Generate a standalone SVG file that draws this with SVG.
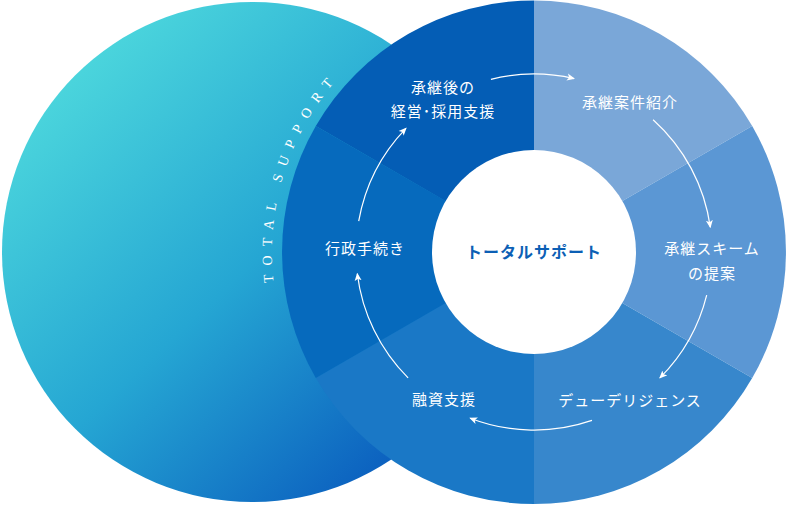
<svg xmlns="http://www.w3.org/2000/svg" width="787" height="505" viewBox="0 0 787 505">
<defs>
<linearGradient id="lg" x1="0.15" y1="0.15" x2="0.85" y2="0.9">
<stop offset="0" stop-color="#4ad4dc"/><stop offset="0.5" stop-color="#25a6d3"/><stop offset="1" stop-color="#0a5cbe"/>
</linearGradient>
<marker id="ah" markerWidth="8" markerHeight="8" refX="7" refY="4" orient="auto" markerUnits="userSpaceOnUse">
<path d="M0,0.5 L8,4 L0,7.5 L2,4 Z" fill="#fff"/>
</marker>
<path id="tp" d="M274.5,288.5 A262,262 0 0 1 383.7,37.4" fill="none"/>
</defs>
<style>
.lb{font-family:"Noto Sans CJK JP","Noto Sans",sans-serif;font-size:15px;fill:#fff;text-anchor:middle;letter-spacing:1px}
.ar{fill:none;stroke:#fff;stroke-width:1.2;marker-end:url(#ah)}
</style>
<circle cx="252" cy="252" r="250" fill="url(#lg)"/>
<text font-family="Liberation Serif,serif" font-size="14" fill="#fff" letter-spacing="8.8"><textPath href="#tp" startOffset="6">TOTAL SUPPORT</textPath></text>
<g id="ring">
<path d="M534,252 L534,0.5 A252,252 0 0 1 752.2,126 Z" fill="#7aa7d8"/>
<path d="M534,252 L752.2,126 A252,252 0 0 1 752.2,378 Z" fill="#5b97d4"/>
<path d="M534,252 L752.2,378 A252,252 0 0 1 534,504 Z" fill="#3787cc"/>
<path d="M534,252 L534,504 A252,252 0 0 1 315.8,378 Z" fill="#1a78c6"/>
<path d="M534,252 L315.8,378 A252,252 0 0 1 315.8,126 Z" fill="#066abd"/>
<path d="M534,252 L315.8,126 A252,252 0 0 1 534,0.5 Z" fill="#045db5"/>
<circle cx="534" cy="252" r="102" fill="#fff"/>
</g>
<g id="connectors">
<path class="ar" d="M490.9,79.3 A178,178 0 0 1 574,78.6"/>
<path class="ar" d="M653.1,119.7 A178,178 0 0 1 710.3,227.2"/>
<path class="ar" d="M706.7,295.1 A178,178 0 0 1 659.9,377.9"/>
<path class="ar" d="M592,420.4 A178,178 0 0 1 470.2,418.2"/>
<path class="ar" d="M408.1,377.9 A178,178 0 0 1 357.3,273.7"/>
<path class="ar" d="M358.7,221.1 A178,178 0 0 1 406,128.3"/>
</g>
<g id="center"><text x="534" y="258" font-family="Noto Sans CJK JP,sans-serif" font-size="16" fill="#0c5fb5" text-anchor="middle" font-weight="bold" letter-spacing="1">トータルサポート</text></g>
<g id="n1"><text class="lb" x="443" y="93">承継後の</text><text class="lb" x="443" y="117">経営･採用支援</text></g>
<g id="n2"><text class="lb" x="630" y="108">承継案件紹介</text></g>
<g id="n3"><text class="lb" x="712" y="254">承継スキーム</text><text class="lb" x="712" y="279">の提案</text></g>
<g id="n4"><text class="lb" x="630" y="406">デューデリジェンス</text></g>
<g id="n5"><text class="lb" x="444" y="405">融資支援</text></g>
<g id="n6"><text class="lb" x="365" y="254">行政手続き</text></g>
</svg>
